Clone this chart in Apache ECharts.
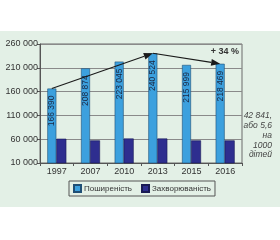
<!DOCTYPE html>
<html><head><meta charset="utf-8">
<script src="https://cdn.jsdelivr.net/npm/echarts@6/dist/echarts.min.js"></script>
<style>
html,body{margin:0;padding:0;background:#fff;}
#bg{position:absolute;left:0;top:31px;width:280px;height:176px;background:#e3f0e6;}
#c{position:absolute;left:0;top:0;width:280px;height:240px;}
</style></head>
<body><div id="bg"></div><div id="c"></div>
<script>
var years = ['1997','2007','2010','2013','2015','2016'];
var prevalence = [166390, 208874, 223045, 240524, 215999, 218469];
var incidence = [61000, 57500, 61500, 61500, 57500, 57500];
var yTicks = [10000, 60000, 110000, 160000, 210000, 260000];
var arrows = [[0, 166390, 3, 240524], [3, 240524, 5, 218469]];
var legendNames = ['Поширеність', 'Захворюваність'];
var noteLines = ['42 841,', 'або 5,6', 'на', '1000', 'дітей'];
var growthLabel = '+ 34 %';

var FONT = '"Liberation Sans", Arial, sans-serif';
function fmt(v){ return String(v).replace(/\B(?=(\d{3})+(?!\d))/g, ' '); }

var chart = echarts.init(document.getElementById('c'), null, {renderer:'canvas'});
var BW1 = 9, BW2 = 10;
chart.setOption({
  animation:false,
  backgroundColor:'transparent',
  textStyle:{fontFamily:FONT},
  grid:{left:40, right:38, top:44, bottom:77, show:true, borderColor:'#6b6b6b', borderWidth:1, backgroundColor:'transparent'},
  xAxis:{type:'category', data:years, boundaryGap:true,
    axisLine:{lineStyle:{color:'#555'}}, axisTick:{show:true, length:3, lineStyle:{color:'#555'}},
    axisLabel:{color:'#333', fontSize:9, margin:4, fontFamily:FONT}},
  yAxis:{type:'value', min:yTicks[0], max:yTicks[yTicks.length-1], interval:50000,
    axisLine:{show:true, lineStyle:{color:'#555'}}, axisTick:{show:true, length:3, lineStyle:{color:'#555'}},
    splitLine:{lineStyle:{color:'#8a8a8a', width:1}},
    axisLabel:{color:'#333', fontSize:9, margin:2, fontFamily:FONT, formatter:function(v){return fmt(v);}}},
  legend:{data:legendNames, left:69, top:181, itemWidth:7, itemHeight:7, itemGap:9, icon:'rect',
    padding:[3,4,3,4], borderColor:'#555', borderWidth:1, backgroundColor:'transparent',
    textStyle:{fontSize:8, color:'#333', fontFamily:FONT, padding:[0,0,0,-2]}},
  series:[
    {name:legendNames[0], type:'bar', data:prevalence, barWidth:BW1, barGap:'0%',
      itemStyle:{color:'#3ca0de', borderColor:'#1f4f75', borderWidth:0.6},
      label:{show:true, position:'insideTop', rotate:90, align:'right', verticalAlign:'middle', distance:7,
        color:'#1a2742', fontSize:8.5, fontFamily:FONT, formatter:function(p){return fmt(p.value);}}},
    {name:legendNames[1], type:'bar', data:incidence, barWidth:BW2, barGap:'0%',
      itemStyle:{color:'#2e2e8f', borderColor:'#1a1a55', borderWidth:0.6}},
    {type:'custom', data:arrows, encode:{x:[0,2], y:[1,3]}, silent:true, z:10,
      renderItem:function(params, api){
        var off = -(BW1+BW2)/2 + BW1/2;
        var a = api.coord([api.value(0), api.value(1)]);
        var b = api.coord([api.value(2), api.value(3)]);
        a[0]+=off; b[0]+=off;
        var dx=b[0]-a[0], dy=b[1]-a[1], L=Math.sqrt(dx*dx+dy*dy), ux=dx/L, uy=dy/L;
        var hl=9, hw=3.5;
        var bx=b[0]-ux*hl, by=b[1]-uy*hl;
        return {type:'group', children:[
          {type:'line', shape:{x1:a[0], y1:a[1], x2:bx, y2:by}, style:{stroke:'#1a1a1a', lineWidth:1.1}},
          {type:'polygon', shape:{points:[[b[0],b[1]],[bx-uy*hw,by+ux*hw],[bx+uy*hw,by-ux*hw]]}, style:{fill:'#1a1a1a'}}
        ]};
      }}
  ],
  graphic:[
    {type:'text', x:239, y:47, style:{text:growthLabel, font:'bold 9px '+FONT, fill:'#333', align:'right', verticalAlign:'top'}},
    {type:'text', x:272, y:111, style:{text:noteLines.join('\n'), font:'italic 8.5px '+FONT, fill:'#444', align:'right', verticalAlign:'top', lineHeight:9.8}}
  ]
});
</script></body></html>
